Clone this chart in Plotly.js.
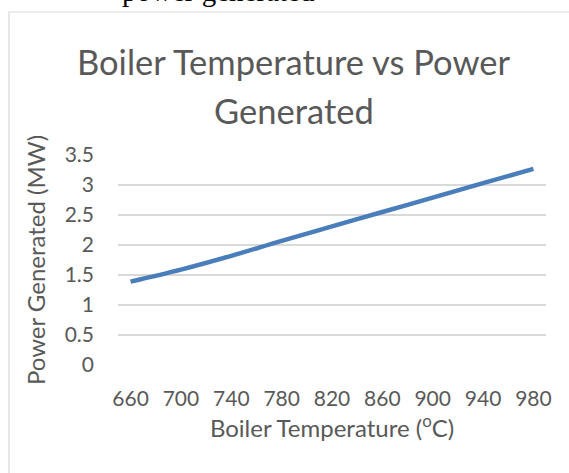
<!DOCTYPE html>
<html><head><meta charset="utf-8">
<script src="https://cdn.plot.ly/plotly-3.0.1.min.js"></script>
<style>html,body{margin:0;padding:0;overflow:hidden;background:#fff}
#chart{width:569px;height:473px}</style></head>
<body><div id="chart"></div>
<script>
const temperatures = [660, 700, 740, 780, 820, 860, 900, 940, 980];
const power = [1.39, 1.59, 1.82, 2.07, 2.31, 2.55, 2.79, 3.03, 3.27];
const xTicks = [660, 700, 740, 780, 820, 860, 900, 940, 980];
const yTicks = [0, 0.5, 1, 1.5, 2, 2.5, 3, 3.5];
const yTickText = ['0', '0.5', '1', '1.5', '2', '2.5', '3', '3.5'];

const L = 118, R = 546, T = 155, B = 365;
const px = x => (x - L) / (R - L);
const py = y => (B - y) / (B - T);
const font = 'Lato, "Open Sans", sans-serif';
const grey = '#595959';

const trace = {
  x: temperatures, y: power, type: 'scatter', mode: 'lines',
  line: {color: '#4a7ebb', width: 4.5, shape: 'spline', smoothing: 1},
  hoverinfo: 'skip'
};

const layout = {
  width: 569, height: 473,
  margin: {l: L, r: 569 - R, t: T, b: 473 - B, pad: 0},
  paper_bgcolor: '#fff', plot_bgcolor: '#fff',
  showlegend: false,
  font: {family: font, color: grey},
  xaxis: {
    range: [650, 990], tickvals: xTicks, ticktext: xTicks.map(String),
    showgrid: false, zeroline: false, showline: false, ticks: '',
    ticklabelstandoff: 19,
    tickfont: {family: font, size: 21, color: grey},
    title: {text: 'Boiler Temperature (<sup>o</sup>C)', font: {family: font, size: 24, color: grey}, standoff: 8}
  },
  yaxis: {
    range: [0, 3.5], tickvals: yTicks, ticktext: yTickText,
    showgrid: true, gridcolor: '#d9d9d9', gridwidth: 1.3,
    zeroline: false, showline: false, ticks: '',
    ticklabelstandoff: 23,
    tickfont: {family: font, size: 21, color: grey},
    title: {text: 'Power Generated (MW)', font: {family: font, size: 24, color: grey}, standoff: 12}
  },
  shapes: [{
    type: 'rect', xref: 'paper', yref: 'paper',
    x0: px(9), x1: px(700), y0: py(600), y1: py(12),
    line: {color: '#d9d9d9', width: 1.2}, fillcolor: 'rgba(0,0,0,0)', layer: 'below'
  }],
  annotations: [
    {text: 'Boiler Temperature vs Power', xref: 'paper', yref: 'paper', x: px(293), y: py(61),
     xanchor: 'center', yanchor: 'middle', showarrow: false,
     font: {family: font, size: 34.5, color: grey}},
    {text: 'Generated', xref: 'paper', yref: 'paper', x: px(294), y: py(110),
     xanchor: 'center', yanchor: 'middle', showarrow: false,
     font: {family: font, size: 34.5, color: grey}},
    {text: 'power generated', xref: 'paper', yref: 'paper', x: px(120), y: py(9),
     xanchor: 'left', yanchor: 'bottom', showarrow: false,
     font: {family: '"Liberation Serif", "Times New Roman", serif', size: 29, color: '#000'}}
  ]
};

Plotly.newPlot('chart', [trace], layout, {displayModeBar: false, staticPlot: true});
</script></body></html>
